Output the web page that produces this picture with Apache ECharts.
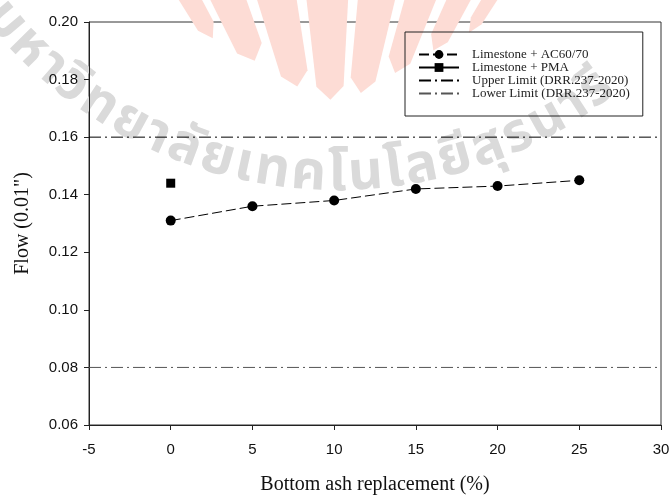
<!DOCTYPE html>
<html>
<head>
<meta charset="utf-8">
<script src="https://cdn.jsdelivr.net/npm/echarts@6/dist/echarts.min.js"></script>
<style>
  html, body { margin: 0; padding: 0; background: #ffffff; }
  #chart { width: 671px; height: 497px; }
</style>
</head>
<body>
<div id="chart"></div>
<script>
// Flow of the asphalt mixes against bottom ash replacement
const replacement = [0, 5, 10, 15, 20, 25];
const flowAC6070 = [0.131, 0.136, 0.138, 0.142, 0.143, 0.145];
const pmaReplacement = [0];
const flowPMA = [0.144];
const upperLimit = 0.16;
const lowerLimit = 0.08;
const xRange = [-5, 30];
const yRange = [0.06, 0.20];
const seriesNames = [
  'Limestone + AC60/70',
  'Limestone + PMA',
  'Upper Limit (DRR.237-2020)',
  'Lower Limit (DRR.237-2020)'
];
// background seal text, split into glyph clusters
const sealText = ['ม','ห','า','วิ','ท','ย','า','ลั','ย','เ','ท','ค','โ','น','โ','ล','ยี','สุ','ร','น','า','รี'];

const chart = echarts.init(document.getElementById('chart'), null, { renderer: 'canvas' });

// ---- background seal: rays on top, arc of text below ----
const bg = [];
const focus = [335, 250];
const rays = [[-32, -28], [-26.5, -19.5], [-17.3, -8.7], [-6.5, 3], [5.2, 13.5], [15.5, 22], [24, 28.5], [30.3, 33]];
rays.forEach(function (r) {
  const mid = (r[0] + r[1]) / 2;
  const tipR = 150 + 0.105 * mid * mid;
  const pt = function (deg, rad) {
    const a = deg * Math.PI / 180;
    return [focus[0] + rad * Math.sin(a), focus[1] - rad * Math.cos(a)];
  };
  bg.push({
    type: 'polygon', silent: true, z: 0,
    shape: { points: [pt(r[0], 320), pt(r[1], 320), pt(r[1], tipR + 14), pt(mid, tipR), pt(r[0], tipR + 14)] },
    style: { fill: '#fddcd5' }
  });
});

const sealFont = "bold 54px 'Noto Sans Thai', 'Noto Sans', sans-serif";
const measure = document.createElement('canvas').getContext('2d');
measure.font = sealFont;
const arcC = [337, -258], arcR = 437;
let theta = -50 * Math.PI / 180;
sealText.forEach(function (g, i) {
  const w = measure.measureText(g).width;
  if (i > 0) theta += (w / 2) / arcR;
  bg.push({
    type: 'text', silent: true, z: 0,
    x: arcC[0] + arcR * Math.sin(theta),
    y: arcC[1] + arcR * Math.cos(theta),
    rotation: theta,
    style: {
      text: g, font: sealFont, fill: '#dadada',
      align: 'center', verticalAlign: 'middle'
    }
  });
  theta += (w / 2 + 2) / arcR;
});

const toXY = function (xs, ys) { return xs.map(function (x, i) { return [x, ys[i]]; }); };
const serif = "'Liberation Serif', 'Times New Roman', serif";
const sans = "'Liberation Sans', Arial, sans-serif";
const hiddenMark = { color: 'transparent', borderWidth: 0, opacity: 0 };

const option = {
  backgroundColor: '#ffffff',
  animation: false,
  graphic: { elements: bg },
  grid: {
    left: 89, right: 10, top: 22, bottom: 72,
    outerBoundsMode: 'none', containLabel: false,
    show: true, borderColor: '#333', borderWidth: 1, backgroundColor: 'transparent'
  },
  legend: {
    orient: 'vertical', left: 405, top: 32,
    padding: [16, 13, 16, 13],
    itemWidth: 40, itemHeight: 11, itemGap: 0,
    borderColor: '#222', borderWidth: 1,
    backgroundColor: 'transparent',
    textStyle: { fontFamily: serif, fontSize: 13, lineHeight: 11, color: '#222', padding: [0, 0, 0, 8] },
    data: [
      { name: seriesNames[0] },
      { name: seriesNames[1] },
      { name: seriesNames[2], itemStyle: hiddenMark },
      { name: seriesNames[3], itemStyle: hiddenMark }
    ]
  },
  xAxis: {
    type: 'value', min: xRange[0], max: xRange[1], interval: 5,
    name: 'Bottom ash replacement (%)', nameLocation: 'middle', nameGap: 50,
    nameTextStyle: { fontFamily: serif, fontSize: 20, color: '#111' },
    axisLine: { onZero: false, lineStyle: { color: '#222', width: 1 } },
    axisTick: { inside: false, length: 5, lineStyle: { color: '#222' } },
    axisLabel: { fontFamily: sans, fontSize: 15, color: '#111', margin: 17 },
    splitLine: { show: false }
  },
  yAxis: {
    type: 'value', min: yRange[0], max: yRange[1], interval: 0.02,
    name: 'Flow (0.01")', nameLocation: 'middle', nameGap: 56,
    nameTextStyle: { fontFamily: serif, fontSize: 20, color: '#111' },
    axisLine: { show: true, onZero: false, lineStyle: { color: '#222', width: 1 } },
    axisTick: { show: true, inside: false, length: 5, lineStyle: { color: '#222' } },
    axisLabel: {
      fontFamily: sans, fontSize: 15, color: '#111', margin: 11,
      formatter: function (v) { return v.toFixed(2); }
    },
    splitLine: { show: false }
  },
  series: [
    {
      name: seriesNames[0], type: 'line', z: 5,
      data: toXY(replacement, flowAC6070),
      symbol: 'circle', symbolSize: 10,
      itemStyle: { color: '#000' },
      lineStyle: { color: '#000', width: 1, type: [10, 4] }
    },
    {
      name: seriesNames[1], type: 'line', z: 5,
      data: toXY(pmaReplacement, flowPMA),
      symbol: 'rect', symbolSize: 9,
      itemStyle: { color: '#000' },
      lineStyle: { color: '#000', width: 1 }
    },
    {
      name: seriesNames[2], type: 'line', z: 4,
      data: toXY(xRange, [upperLimit, upperLimit]),
      symbol: 'none',
      itemStyle: { color: '#000' },
      lineStyle: { color: '#000', width: 1, type: [12, 4, 2, 4] }
    },
    {
      name: seriesNames[3], type: 'line', z: 4,
      data: toXY(xRange, [lowerLimit, lowerLimit]),
      symbol: 'none',
      itemStyle: { color: '#555' },
      lineStyle: { color: '#555', width: 1, type: [12, 4, 2, 4] }
    }
  ]
};
chart.setOption(option);
</script>
</body>
</html>
